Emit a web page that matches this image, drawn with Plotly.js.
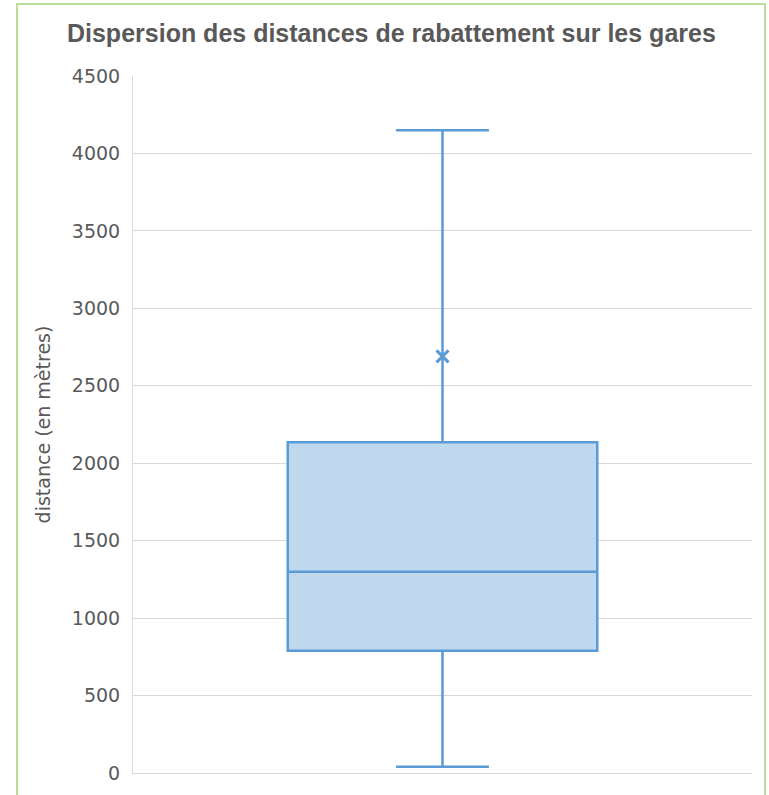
<!DOCTYPE html>
<html>
<head>
<meta charset="utf-8">
<script src="https://cdn.plot.ly/plotly-3.0.1.min.js"></script>
<style>
html, body { margin: 0; padding: 0; background: #ffffff; }
#wrap { position: relative; width: 769px; height: 795px; overflow: hidden; }
#chart { position: absolute; left: 0; top: 0; width: 769px; height: 795px; }
#frame { position: absolute; left: 16px; top: 3px; width: 750px; height: 820px;
         border: 2px solid #b9e09b; pointer-events: none; box-sizing: border-box; }
</style>
</head>
<body>
<div id="wrap">
  <div id="chart"></div>
  <div id="frame"></div>
</div>
<script>
// Data (distances in metres)
const category = ["gares"];
const minimum = [40];
const q1 = [790];
const median = [1300];
const q3 = [2135];
const maximum = [4150];
const mean = [2690];
const yTicks = [0, 500, 1000, 1500, 2000, 2500, 3000, 3500, 4000, 4500];

const blue = "#5b9bd5";
const traces = [
  {
    type: "box",
    x: category,
    q1: q1, median: median, q3: q3,
    lowerfence: minimum, upperfence: maximum,
    width: 0.5,
    whiskerwidth: 0.3,
    fillcolor: "#c0d8ee",
    line: { color: blue, width: 2.5 },
    boxpoints: false,
    hoverinfo: "skip",
    showlegend: false
  },
  {
    type: "scatter",
    mode: "markers",
    x: category,
    y: mean,
    marker: { symbol: "x-thin-open", size: 12, color: blue, line: { color: blue, width: 3 } },
    showlegend: false,
    hoverinfo: "skip"
  }
];

const layout = {
  width: 769, height: 795,
  margin: { l: 133, r: 17, t: 76, b: 22 },
  paper_bgcolor: "rgba(0,0,0,0)",
  plot_bgcolor: "#ffffff",
  title: {
    text: "<b>Dispersion des distances de rabattement sur les gares</b>",
    font: { family: "Liberation Sans, Arial", size: 25, color: "#595959" },
    xref: "container", x: 0.509, xanchor: "center",
    yref: "container", y: 0.958, yanchor: "middle"
  },
  xaxis: {
    type: "category",
    range: [-0.5, 0.5],
    showticklabels: false,
    ticks: "",
    showgrid: false,
    zeroline: false,
    showline: true, linecolor: "#d9d9d9", linewidth: 1
  },
  yaxis: {
    range: [0, 4500],
    tickvals: yTicks,
    ticktext: yTicks.map(String),
    tickfont: { family: "DejaVu Sans, Verdana, sans-serif", size: 19, color: "#595959" },
    ticks: "outside", ticklen: 8, tickcolor: "rgba(0,0,0,0)",
    showgrid: true, gridcolor: "#d9d9d9", gridwidth: 1,
    zeroline: false,
    showline: true, linecolor: "#d9d9d9", linewidth: 1,
    title: {
      text: "distance (en mètres)",
      font: { family: "DejaVu Sans, sans-serif", size: 19, color: "#595959" },
      standoff: 16
    },
    automargin: false
  }
};

Plotly.newPlot("chart", traces, layout, { displayModeBar: false, staticPlot: true });
</script>
</body>
</html>
